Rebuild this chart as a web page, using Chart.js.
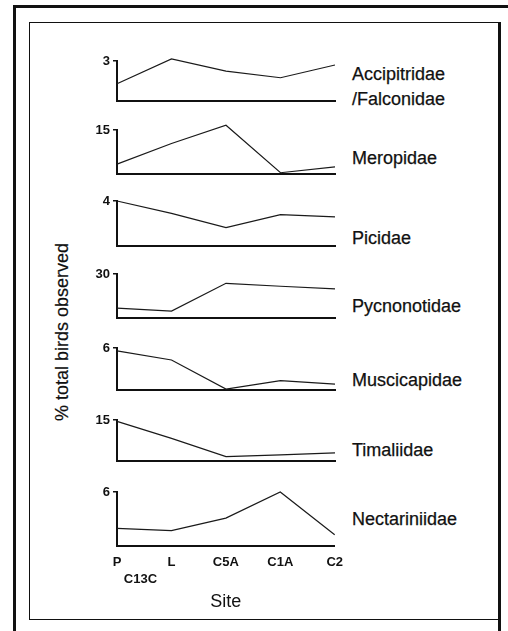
<!DOCTYPE html>
<html>
<head>
<meta charset="utf-8">
<script src="https://cdn.jsdelivr.net/npm/chart.js@4.4.1/dist/chart.umd.min.js"></script>
<style>
  body { margin: 0; width: 508px; height: 631px; background: #fff; position: relative; overflow: hidden;
         font-family: "Liberation Sans", Arial, sans-serif; color: #111; }
  .line { position: absolute; background: #111; }
  .frame { position: absolute; border: 1.5px solid #111; box-sizing: border-box; }
  canvas { position: absolute; }
  .fam { position: absolute; left: 352px; font-size: 18px; line-height: 25px; white-space: pre;
         -webkit-text-stroke: 0.25px #111; }
  .ytitle { position: absolute; font-size: 18px; white-space: nowrap; -webkit-text-stroke: 0.2px #111;
            transform: translate(-50%, -50%) rotate(-90deg); }
</style>
</head>
<body>
<div class="line" style="left:13px; top:5px; width:495px; height:3px;"></div>
<div class="line" style="left:13px; top:5px; width:3px; height:626px;"></div>
<div class="frame" style="left:29px; top:22px; width:471px; height:598px;"></div>
<div class="line" style="left:498px; top:22px; width:2.5px; height:609px;"></div>
<div class="ytitle" style="left:62px; top:332px;">% total birds observed</div>
<div id="panels"></div>

<script>
// ── data ─────────────────────────────────────────
const sitePos = [0, 1, 2, 3, 4];                       // P, L, C5A, C1A, C2
const tickPos = [0, 0.43, 1, 2, 3, 4];
const tickLabels = ['P', ['', 'C13C'], 'L', 'C5A', 'C1A', 'C2'];

const families = ['Accipitridae\n/Falconidae', 'Meropidae', 'Picidae', 'Pycnonotidae',
                  'Muscicapidae', 'Timaliidae', 'Nectariniidae'];
const yMax = [3, 15, 4, 30, 6, 15, 6];

const accipitridae  = [1.3, 3.15, 2.25, 1.75, 2.7];
const meropidae     = [3.4, 10.4, 16.6, 0.5, 2.5];
const picidae       = [4.0, 2.9, 1.65, 2.8, 2.6];
const pycnonotidae  = [6.9, 4.8, 23.7, 21.7, 19.9];
const muscicapidae  = [5.6, 4.3, 0.15, 1.35, 0.85];
const timaliidae    = [14.5, 8.3, 1.7, 2.3, 3.0];
const nectariniidae = [1.95, 1.7, 3.1, 6.0, 1.25];

const series = [accipitridae, meropidae, picidae, pycnonotidae, muscicapidae, timaliidae, nectariniidae];

// ── layout ───────────────────────────────────────
const PANEL_TOP    = [61, 130, 201, 274, 348, 420, 492];
const PANEL_BOTTOM = [112, 185, 257, 329.5, 401.5, 472.5, 546];
const LABEL_Y      = [74, 158, 238, 306, 380, 450, 519];
const AXIS_LEFT = 117, AXIS_RIGHT = 335;
const Y_W = 40, PAD_T = 14, PAD_R = 16;
const INK = '#111';
const FONT = '"Liberation Sans", Arial, sans-serif';

const holder = document.getElementById('panels');

series.forEach((vals, i) => {
  const last = i === series.length - 1;
  const xH = last ? 67 : 0;
  const h = PANEL_BOTTOM[i] - PANEL_TOP[i];

  const cv = document.createElement('canvas');
  cv.width = Y_W + (AXIS_RIGHT - AXIS_LEFT) + PAD_R;
  cv.height = PAD_T + h + xH;
  cv.style.left = (AXIS_LEFT - Y_W) + 'px';
  cv.style.top = (PANEL_TOP[i] - PAD_T) + 'px';
  holder.appendChild(cv);

  // family name on the right
  const lab = document.createElement('div');
  lab.className = 'fam';
  lab.textContent = families[i];
  lab.style.top = (LABEL_Y[i] - 12.5) + 'px';
  holder.appendChild(lab);

  new Chart(cv, {
    type: 'line',
    data: {
      datasets: [{
        data: sitePos.map((x, k) => ({ x, y: vals[k] })),
        borderColor: '#1a1a1a',
        borderWidth: 1.2,
        pointRadius: 0,
        tension: 0,
        clip: false,
      }],
    },
    options: {
      responsive: false,
      animation: false,
      layout: { padding: { top: PAD_T, right: PAD_R, left: 0, bottom: 0 } },
      plugins: { legend: { display: false }, tooltip: { enabled: false } },
      scales: {
        x: {
          type: 'linear',
          min: 0, max: 4,
          afterFit: s => { s.height = xH; },
          afterBuildTicks: s => { s.ticks = tickPos.map(v => ({ value: v })); },
          grid: { display: false, drawTicks: false },
          border: { display: true, color: INK, width: 2 },
          ticks: {
            display: last,
            autoSkip: false,
            maxRotation: 0,
            padding: 8,
            color: INK,
            font: { family: FONT, size: 13, weight: 'bold', lineHeight: 1.3 },
            callback: (v, idx) => tickLabels[idx],
          },
          title: {
            display: last,
            text: 'Site',
            color: INK,
            padding: { top: 0, bottom: 0 },
            font: { family: FONT, size: 18 },
          },
        },
        y: {
          min: 0, max: yMax[i],
          afterFit: s => { s.width = Y_W; },
          afterBuildTicks: s => { s.ticks = [{ value: yMax[i] }]; },
          grid: { display: true, drawOnChartArea: false, drawTicks: true, tickLength: 4, color: INK, lineWidth: 1.5 },
          border: { display: true, color: INK, width: 2 },
          ticks: {
            padding: 3,
            color: INK,
            font: { family: FONT, size: 13, weight: 'bold' },
          },
        },
      },
    },
  });
});
</script>
</body>
</html>
